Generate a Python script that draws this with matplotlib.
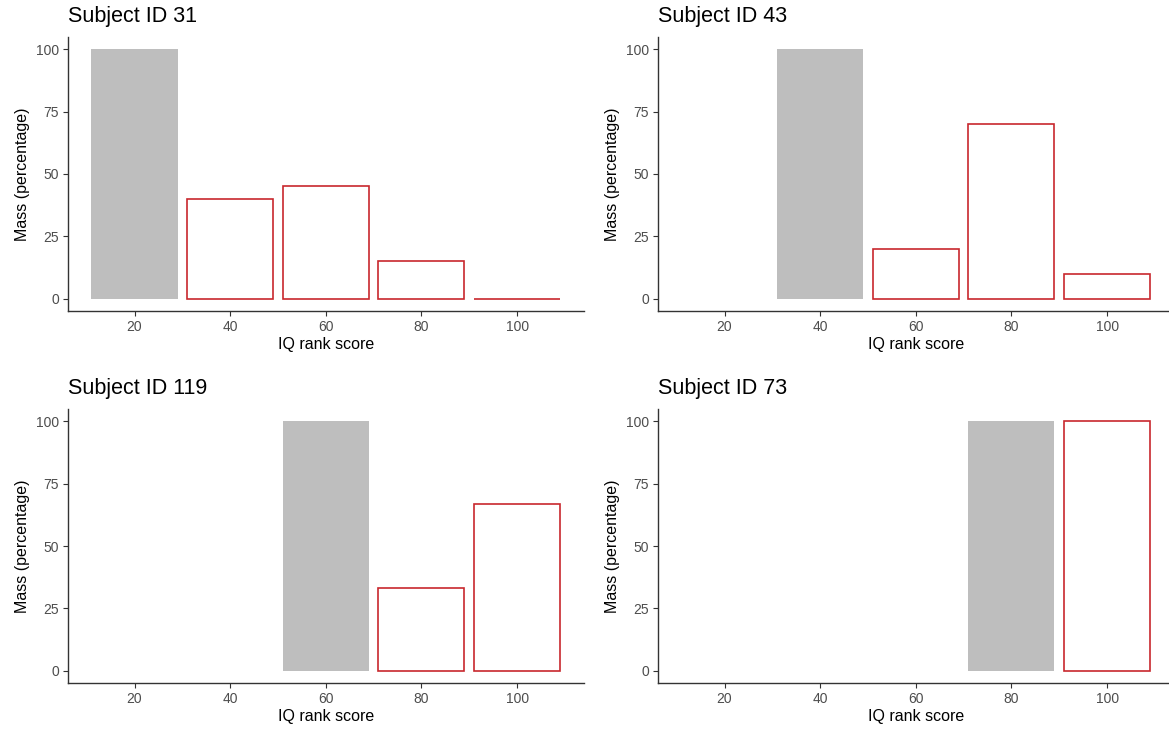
import matplotlib.pyplot as plt
import numpy as np

plt.rcParams['font.family'] = ['Liberation Sans', 'DejaVu Sans']

# IQ rank score bins shared by every panel
iq_scores = [20, 40, 60, 80, 100]

# Subjects in panel order
subject_ids = [31, 43, 119, 73]

# Each subject's own IQ rank (drawn as the grey bar at 100%)
own_score = [20, 40, 60, 80]

# Mass (percentage) over the remaining scores, one list per subject
mass_31 = [40, 45, 15, 0]
mass_43 = [20, 70, 10]
mass_119 = [33, 67]
mass_73 = [100]
masses = [mass_31, mass_43, mass_119, mass_73]

grey = '#BEBEBE'
red = '#C8282D'
axis_col = '#333333'
tick_col = '#4D4D4D'

fig = plt.figure(figsize=(11.69, 7.30), dpi=100)

# [left, bottom, width, height] for the 2x2 grid
positions = [
    [0.0582, 0.574, 0.4410, 0.3753],
    [0.5629, 0.574, 0.4410, 0.3753],
    [0.0582, 0.0644, 0.4410, 0.3753],
    [0.5629, 0.0644, 0.4410, 0.3753],
]

bar_w = 18

for pos, sid, own, mass in zip(positions, subject_ids, own_score, masses):
    ax = fig.add_axes(pos)

    # grey bar for the subject's own score
    ax.bar(own, 100, width=bar_w, color=grey, edgecolor='none', zorder=2)

    # outlined bars for the scores above it
    others = [s for s in iq_scores if s > own]
    ax.bar(others, mass, width=bar_w, facecolor='white', edgecolor=red,
           linewidth=1.2, zorder=3)

    ax.set_xlim(6.1, 113.9)
    ax.set_ylim(-5, 105)
    ax.set_xticks(iq_scores)
    ax.set_yticks([0, 25, 50, 75, 100])

    for side in ['top', 'right']:
        ax.spines[side].set_visible(False)
    for side in ['left', 'bottom']:
        ax.spines[side].set_color(axis_col)
        ax.spines[side].set_linewidth(1.0)

    ax.tick_params(axis='both', colors=axis_col, labelcolor=tick_col,
                   labelsize=10, length=3.5, width=0.8, pad=3)

    ax.set_xlabel('IQ rank score', fontsize=11.5, labelpad=2)
    ax.set_ylabel('Mass (percentage)', fontsize=11.5, labelpad=4)
    ax.set_title(f'Subject ID {sid}', loc='left', fontsize=15.5, pad=11)

fig.savefig('out.png', dpi=100)
